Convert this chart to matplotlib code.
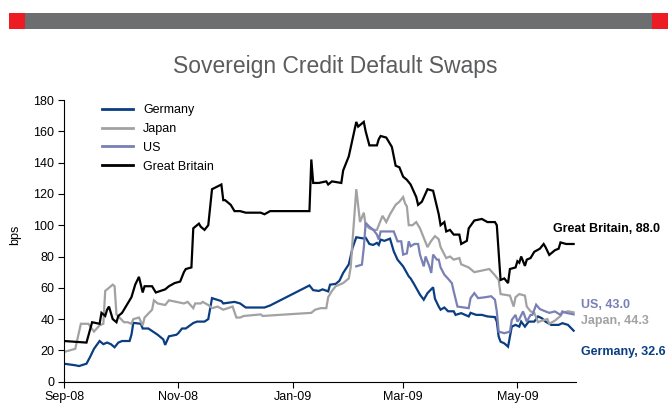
import numpy as np
import matplotlib
matplotlib.use("Agg")
import matplotlib.pyplot as plt
import matplotlib.dates as mdates
from matplotlib.patches import Rectangle
from matplotlib.lines import Line2D

plt.rcParams["font.family"] = ["Liberation Sans", "DejaVu Sans"]

# days counted from 1 Sep 2008, CDS spread in bps
start = np.datetime64("2008-09-01")

gbDays = [0, 12, 15, 19, 20, 22, 23, 24, 25, 26, 28, 29, 31, 34, 36, 38, 40, 42, 43, 47,
          49, 54, 56, 59, 62, 64, 65, 68, 69, 72, 73, 75, 77, 79, 84, 85, 86, 89, 91, 94,
          97, 105, 107, 110, 131, 132, 133, 136, 140, 141, 143, 148, 149, 152, 154, 156, 157, 160, 161, 163,
          167, 168, 169, 172, 174, 175, 177, 179, 181, 183, 185, 188, 189, 191, 194, 197, 200, 201, 203, 204,
          206, 208, 211, 212, 215, 216, 219, 223, 226, 230, 231, 233, 235, 237, 238, 241, 242, 243, 244, 246,
          247, 249, 251, 254, 256, 257, 259, 262, 264, 265, 268, 272]
gbVals = [26, 25, 38, 37, 44, 42, 46, 48, 44, 40, 38, 42, 44, 50, 54, 62, 67, 57, 61, 61,
          57, 59, 61, 63, 64, 70, 72, 73, 98, 101, 99, 97, 100, 123, 126, 116, 116, 113, 109, 109,
          108, 108, 107, 109, 109, 142, 127, 127, 128, 126, 128, 127, 135, 144, 155, 166, 163, 166, 160, 151,
          151, 155, 157, 156, 152, 150, 138, 137, 131, 129, 126, 118, 113, 115, 123, 122, 107, 100, 102, 96,
          97, 94, 94, 88, 90, 98, 103, 104, 102, 102, 100, 65, 66, 63, 72, 73, 77, 76, 80, 74,
          78, 79, 83, 85, 88, 86, 81, 84, 85, 89, 88, 88.0]

jpDays = [0, 6, 9, 13, 16, 19, 21, 22, 26, 27, 28, 32, 34, 36, 37, 40, 42, 43, 47, 48,
          50, 54, 56, 60, 64, 66, 69, 70, 73, 74, 77, 79, 82, 85, 90, 92, 94, 96, 105, 106,
          132, 134, 137, 140, 141, 143, 145, 149, 152, 153, 154, 156, 158, 159, 160, 161, 163, 165, 167, 168,
          170, 172, 174, 175, 177, 179, 181, 182, 183, 184, 186, 188, 190, 192, 194, 196, 198, 200, 201, 204,
          206, 208, 211, 212, 216, 219, 223, 227, 230, 232, 233, 238, 240, 241, 243, 246, 247, 249, 251, 253,
          255, 258, 259, 262, 265, 266, 269, 272]
jpVals = [19, 21, 37, 37, 32, 36, 37, 58, 62, 61, 43, 38, 38, 37, 40, 41, 36, 41, 46, 52,
          50, 49, 52, 51, 50, 51, 47, 50, 50, 51, 49, 47, 48, 46, 48, 41, 41, 42, 43, 42,
          44, 46, 47, 47, 54, 58, 61, 63, 66, 73, 90, 123, 102, 105, 108, 100, 98, 97, 97, 100,
          106, 102, 107, 109, 113, 115, 118, 114, 112, 100, 100, 102, 98, 92, 86, 90, 93, 91, 86, 79,
          80, 78, 79, 75, 73, 70, 71, 72, 68, 65, 56, 55, 48, 54, 56, 55, 48, 45, 44, 38,
          39, 40, 37, 39, 42, 44, 45, 44.3]

deDays = [0, 6, 8, 12, 14, 16, 19, 21, 23, 25, 27, 29, 31, 35, 36, 37, 41, 42, 45, 50,
          53, 54, 56, 60, 61, 63, 65, 69, 71, 75, 77, 79, 84, 85, 88, 91, 94, 97, 107, 110,
          131, 133, 136, 138, 141, 142, 145, 147, 149, 152, 154, 156, 160, 161, 163, 165, 167, 168, 169, 171,
          174, 176, 178, 181, 184, 185, 187, 190, 192, 194, 197, 198, 200, 201, 203, 205, 208, 209, 212, 216,
          217, 220, 223, 226, 230, 231, 232, 233, 235, 237, 238, 239, 241, 243, 244, 246, 248, 251, 253, 255,
          257, 260, 264, 266, 269, 272]
deVals = [11.5, 10.5, 10, 11.5, 16, 21, 26, 24, 25, 24, 22, 25, 26, 26, 30, 37.6, 37, 34, 34, 30,
          27, 23.5, 29, 30, 31, 34, 34, 37.5, 38.4, 38.4, 40, 53.4, 51.5, 50, 50.5, 51, 50, 47.4, 47.4, 48.7,
          61.5, 58.5, 58, 59, 57.7, 62, 62.5, 64.5, 69.5, 75, 85.5, 92.3, 91.5, 92, 88, 87.4, 88.7, 87.4, 90.8, 90,
          91.4, 83.3, 78, 73.7, 67.3, 66, 62, 55.6, 52.4, 56.6, 60.3, 53, 48, 46, 47.4, 45, 45, 42.7, 43.8, 41.7,
          44, 42.7, 42.7, 41.7, 41.3, 38.4, 28.8, 25.6, 24.5, 22.4, 28.8, 35.2, 36.3, 35.2, 38.4, 35.2, 38.4, 38.4, 41.7, 40.6,
          38.4, 36.3, 36.3, 37.4, 36.3, 32.6]

usDays = [156, 159, 160, 161, 163, 165, 167, 168, 169, 176, 178, 180, 181, 183, 184, 185, 187, 189, 190, 192,
          193, 195, 196, 197, 199, 200, 201, 203, 205, 207, 208, 210, 216, 217, 219, 221, 225, 228, 230, 231,
          232, 235, 238, 239, 241, 242, 243, 245, 247, 249, 250, 252, 254, 257, 259, 262, 265, 266, 268, 272]
usVals = [73.7, 74.8, 85.5, 101.5, 99, 97.2, 94, 90.8, 96, 96, 89.7, 89.7, 81.2, 82, 89.7, 86.5, 88, 88, 81.2, 73.7,
          80, 73.7, 69.5, 81.2, 78, 78, 73, 68.4, 65.8, 63, 57.7, 48, 47, 53.4, 56.6, 53.4, 54, 54.6, 52.4, 44.9,
          32, 31, 32, 39.5, 42.7, 38.4, 40, 44.9, 38.4, 42.7, 42.7, 49.2, 46.4, 44.9, 44, 44.9, 42.7, 44.9, 44, 43.0]

seriesNames = ["Germany", "Japan", "US", "Great Britain"]
seriesDays = [deDays, jpDays, usDays, gbDays]
seriesVals = [deVals, jpVals, usVals, gbVals]
seriesColors = ["#0a3d82", "#a2a2a2", "#7880b4", "#000000"]
# label offsets (points) for the end-of-line value labels
labelOffsets = [(5, -15), (5, -6.5), (5, 6.5), (-15, 11)]

fig = plt.figure(figsize=(6.68, 4.05), dpi=100)
W, H = 668.0, 405.0

# header band
fig.patches.append(Rectangle((9 / W, 1 - 29 / H), (668 - 9) / W, 16 / H, transform=fig.transFigure,
                             facecolor="#6d6e70", edgecolor="none"))
fig.patches.append(Rectangle((9 / W, 1 - 29 / H), 16 / W, 16 / H, transform=fig.transFigure,
                             facecolor="#ed1c24", edgecolor="none"))
fig.patches.append(Rectangle((652 / W, 1 - 29 / H), 16 / W, 16 / H, transform=fig.transFigure,
                             facecolor="#ed1c24", edgecolor="none"))

fig.text(0.502, 1 - 72.5 / H, "Sovereign Credit Default Swaps", ha="center", va="baseline",
         fontsize=16.5, color="#5b5c5e")

ax = fig.add_axes([64 / W, 23.3 / H, 511.5 / W, 281.7 / H])

for name, days, vals, col in zip(seriesNames, seriesDays, seriesVals, seriesColors):
    dates = start + np.array(days).astype("timedelta64[D]")
    ax.plot(dates, vals, color=col, lw=1.6, label=name, solid_joinstyle="miter")

for days, vals, col, name, off in zip(seriesDays, seriesVals, seriesColors, seriesNames, labelOffsets):
    endDate = start + np.timedelta64(days[-1], "D")
    ax.annotate(f"{name}, {vals[-1]:.1f}", xy=(endDate, vals[-1]), xytext=off,
                textcoords="offset points", ha="left", va="center", fontsize=9,
                fontweight="bold", color=col, annotation_clip=False)

ax.set_xlim(start, start + np.timedelta64(273, "D"))
ax.set_ylim(0, 180)
ax.set_yticks(np.arange(0, 181, 20))
ax.xaxis.set_major_locator(mdates.MonthLocator(bymonth=[1, 3, 5, 9, 11]))
ax.xaxis.set_major_formatter(mdates.DateFormatter("%b-%y"))
ax.spines["top"].set_visible(False)
ax.spines["right"].set_visible(False)
ax.tick_params(direction="out", length=4, width=0.8, labelsize=9, pad=3)
fig.text(15 / W, 1 - 235 / H, "bps", rotation=90, ha="center", va="center", fontsize=9)

handles = [Line2D([], [], color=c, lw=2) for c in seriesColors]
ax.legend(handles, seriesNames, loc="upper left", bbox_to_anchor=(102 / W, 1 - 104 / H),
          bbox_transform=fig.transFigure, frameon=False, fontsize=9, borderpad=0,
          borderaxespad=0, handlelength=2.5, handletextpad=0.8, labelspacing=0.55)

plt.savefig("out.png", dpi=100)
plt.close()
